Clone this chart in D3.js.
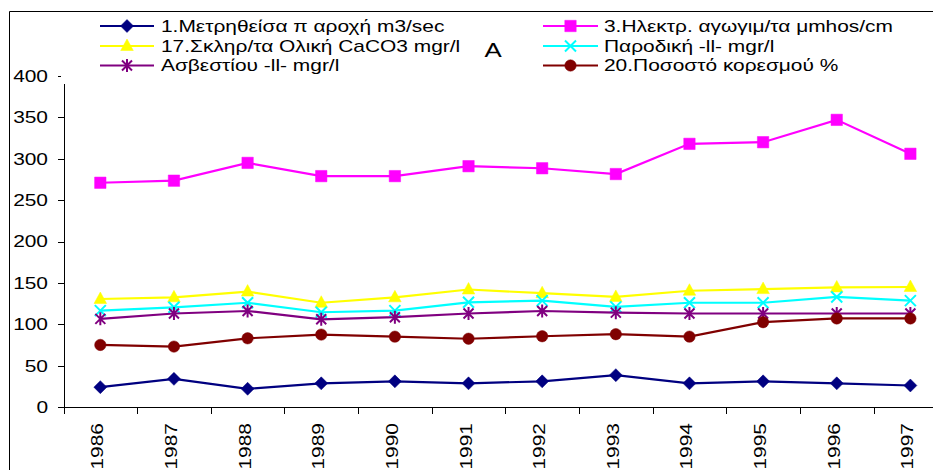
<!DOCTYPE html>
<html>
<head>
<meta charset="utf-8">
<script src="https://cdn.jsdelivr.net/npm/d3@7"></script>
<style>
  html, body { margin: 0; padding: 0; background: #fff; }
  svg { display: block; }
  text { font-family: "Liberation Sans", Arial, sans-serif; fill: #000; }
</style>
</head>
<body>
<svg id="chart" width="933" height="470"></svg>
<script>
// Station measurements per year
const years = ["1986", "1987", "1988", "1989", "1990", "1991", "1992", "1993", "1994", "1995", "1996", "1997"];
const flow        = [24, 34, 22, 28.6, 31, 28.6, 31, 38.5, 28.6, 31, 28.6, 26];
const conductivity = [271, 273.5, 295, 279, 279, 291, 288.5, 281.5, 318, 320, 347, 306];
const hardness    = [130.5, 132.5, 139.5, 126, 132.5, 142, 137.5, 133, 140.5, 142.5, 144.5, 145];
const transient   = [116.5, 120.5, 126, 114.5, 116.5, 126.5, 128.5, 121, 126, 126, 133, 128.5];
const calcium     = [106.5, 113, 116, 106, 108.5, 113, 116, 114, 113, 113, 113, 113];
const saturation  = [75, 73, 83, 87.5, 85, 82.5, 85.5, 88, 85, 102.5, 107, 107];
const yTicks = [0, 50, 100, 150, 200, 250, 300, 350, 400];

const seriesNames = [
  "1.Μετρηθείσα π αροχή m3/sec",
  "3.Ηλεκτρ. αγωγιμ/τα μmhos/cm",
  "17.Σκληρ/τα Ολική CaCO3 mgr/l",
  "Παροδική -ll- mgr/l",
  "Ασβεστίου -ll- mgr/l",
  "20.Ποσοστό κορεσμού %"
];
const seriesValues = [flow, conductivity, hardness, transient, calcium, saturation];
const colors = ["#000080", "#FF00FF", "#FFFF00", "#00FFFF", "#800080", "#800000"];
const markerKinds = ["diamond", "square", "triangle", "cross", "star", "circle"];

const series = seriesNames.map((name, i) => ({
  name, values: seriesValues[i], color: colors[i], marker: markerKinds[i]
}));

const svg = d3.select("#chart");
const SX = 1.23;          // horizontal text stretch
const FS = 17;

const x = d3.scaleBand().domain(years).range([63.5, 947.2]);
const y = d3.scaleLinear().domain([0, 400]).range([407, 76]);
const cx = d => x(d) + x.bandwidth() / 2;

// Outer frame
svg.append("path")
  .attr("d", "M9.5,470 L9.5,11.5 L933,11.5")
  .attr("fill", "none").attr("stroke", "#000").attr("stroke-width", 1);

// Y axis
const yAxis = svg.append("g");
yAxis.append("line")
  .attr("x1", 64.5).attr("x2", 64.5).attr("y1", y(400)).attr("y2", y(0))
  .attr("stroke", "#000");
yAxis.selectAll("line.tick").data(yTicks).join("line")
  .attr("class", "tick")
  .attr("x1", 58).attr("x2", 64.5)
  .attr("y1", d => Math.round(y(d)) + 0.5).attr("y2", d => Math.round(y(d)) + 0.5)
  .attr("stroke", "#000");
yAxis.selectAll("text").data(yTicks).join("text")
  .attr("transform", d => `translate(48,${y(d)}) scale(${SX},1)`)
  .attr("text-anchor", "end")
  .attr("dy", "0.35em")
  .attr("font-size", FS)
  .text(d => d);

// X axis
const xAxis = svg.append("g");
xAxis.append("line")
  .attr("x1", 64).attr("x2", 933).attr("y1", 407.5).attr("y2", 407.5)
  .attr("stroke", "#000");
const bounds = years.map(d => x(d)).concat([x.range()[1]]);
xAxis.selectAll("line.tick").data(bounds).join("line")
  .attr("class", "tick")
  .attr("x1", d => Math.round(d) + 0.5).attr("x2", d => Math.round(d) + 0.5)
  .attr("y1", 407.5).attr("y2", 414)
  .attr("stroke", "#000");
xAxis.selectAll("text").data(years).join("text")
  .attr("transform", d => `translate(${cx(d) + 3},423) rotate(-90) scale(${SX},1)`)
  .attr("text-anchor", "end")
  .attr("font-size", FS)
  .text(d => d);

// Marker shapes
function markerPath(kind) {
  switch (kind) {
    case "diamond": return "M0,-6.5L6.5,0L0,6.5L-6.5,0Z";
    case "square": return "M-5.7,-5.7H5.7V5.7H-5.7Z";
    case "triangle": return "M0,-7L6.3,4.5L-6.3,4.5Z";
    case "circle": return d3.symbol(d3.symbolCircle, Math.PI * 5.7 * 5.7)();
    case "cross": return "M-5.5,-5.5L5.5,5.5M5.5,-5.5L-5.5,5.5";
    case "star": return "M-5,-5L5,5M5,-5L-5,5M0,-6.5V6.5";
  }
}
function drawMarker(sel, s) {
  const open = s.marker === "cross" || s.marker === "star";
  sel.append("path")
    .attr("d", markerPath(s.marker))
    .attr("fill", open ? "none" : s.color)
    .attr("stroke", s.color)
    .attr("stroke-width", open ? 2 : 0.5);
}

// Series lines and markers
const line = d3.line().x((v, i) => cx(years[i])).y(v => y(v));
const plot = svg.append("g");
series.forEach(s => {
  const g = plot.append("g");
  g.append("path")
    .attr("d", line(s.values))
    .attr("fill", "none")
    .attr("stroke", s.color)
    .attr("stroke-width", 2.2);
  s.values.forEach((v, i) => {
    const m = g.append("g").attr("transform", `translate(${cx(years[i])},${y(v)})`);
    drawMarker(m, s);
  });
});

// Legend (white box over the top of the plot area)
const legend = svg.append("g");
legend.append("rect")
  .attr("x", 61).attr("y", 12).attr("width", 872).attr("height", 72)
  .attr("fill", "#fff");
const legendRows = [26, 46, 65.5];
const legendCols = [{ x0: 100, x1: 154, tx: 161 }, { x0: 543, x1: 598, tx: 604 }];
series.forEach((s, i) => {
  const col = legendCols[i % 2];
  const ry = legendRows[Math.floor(i / 2)];
  const g = legend.append("g");
  g.append("line")
    .attr("x1", col.x0).attr("x2", col.x1).attr("y1", ry).attr("y2", ry)
    .attr("stroke", s.color).attr("stroke-width", 2.2);
  const m = g.append("g").attr("transform", `translate(${(col.x0 + col.x1) / 2},${ry})`);
  drawMarker(m, s);
  g.append("text")
    .attr("transform", `translate(${col.tx},${ry}) scale(${SX},1)`)
    .attr("dy", "0.35em")
    .attr("font-size", FS)
    .text(s.name);
});

// Panel letter
svg.append("text")
  .attr("transform", `translate(493,57) scale(${SX},1)`)
  .attr("text-anchor", "middle")
  .attr("font-size", 21)
  .text("A");
</script>
</body>
</html>
